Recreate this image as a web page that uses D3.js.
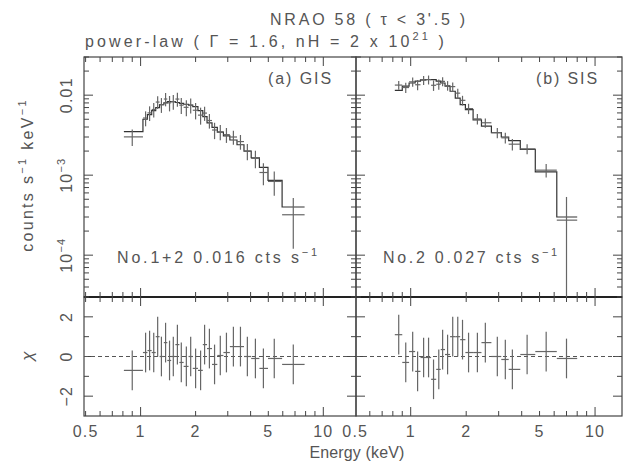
<!DOCTYPE html>
<html>
<head>
<meta charset="utf-8">
<script src="https://cdn.jsdelivr.net/npm/d3@7"></script>
<style>
  body { margin: 0; background: #fff; }
  text { font-family: "Liberation Sans", Arial, sans-serif; fill: #555; }
</style>
</head>
<body>
<div id="chart"></div>
<script>
// GIS (No.1+2) spectrum
const gisEnergy = [0.90, 1.065, 1.12, 1.18, 1.24, 1.30, 1.37, 1.44, 1.51, 1.59, 1.67, 1.78, 1.88, 2.00, 2.13, 2.24, 2.38, 2.54, 2.73, 2.95, 3.22, 3.52, 3.84, 4.25, 4.70, 5.39, 6.85];
const gisEdges = [0.81, 1.03, 1.09, 1.15, 1.21, 1.27, 1.34, 1.40, 1.47, 1.55, 1.63, 1.72, 1.83, 1.93, 2.06, 2.19, 2.31, 2.46, 2.63, 2.84, 3.08, 3.37, 3.68, 4.03, 4.47, 4.98, 5.95, 7.9];
const gisRate = [3.01e-3, 5.18e-3, 6.0e-3, 6.62e-3, 8.2e-3, 7.6e-3, 8.95e-3, 8.02e-3, 8.3e-3, 8.94e-3, 7.5e-3, 7.05e-3, 7.5e-3, 6.48e-3, 5.63e-3, 5.97e-3, 4.82e-3, 3.67e-3, 3.48e-3, 3.21e-3, 3.0e-3, 2.63e-3, 2.0e-3, 1.62e-3, 1.08e-3, 8.35e-4, 3.2e-4];
const gisErr = [7.0e-4, 1.1e-3, 1.25e-3, 1.35e-3, 1.5e-3, 1.6e-3, 1.7e-3, 1.75e-3, 1.75e-3, 1.75e-3, 1.7e-3, 1.6e-3, 1.6e-3, 1.5e-3, 1.35e-3, 1.2e-3, 1.0e-3, 8.5e-4, 7.5e-4, 6.8e-4, 6.0e-4, 5.5e-4, 4.6e-4, 4.0e-4, 3.3e-4, 2.8e-4, 2.0e-4];
const gisModel = [3.5e-3, 5.0e-3, 5.7e-3, 6.4e-3, 7.0e-3, 7.6e-3, 8.0e-3, 8.3e-3, 8.3e-3, 8.1e-3, 7.9e-3, 7.7e-3, 7.5e-3, 7.2e-3, 6.4e-3, 5.4e-3, 4.5e-3, 3.95e-3, 3.45e-3, 3.1e-3, 2.75e-3, 2.4e-3, 2.0e-3, 1.65e-3, 1.25e-3, 8.6e-4, 4.0e-4];
const gisChi = [-0.7, 0.2, 0.3, 0.2, 1.0, 0.0, 0.7, -0.2, 0.0, 0.6, -0.3, -0.5, 0.0, -0.6, -0.7, 0.6, 0.4, -0.4, 0.05, 0.2, 0.5, 0.5, 0.0, -0.1, -0.6, -0.1, -0.4];

// SIS (No.2) spectrum
const sisEnergy = [0.861, 0.94, 1.025, 1.09, 1.175, 1.25, 1.33, 1.42, 1.49, 1.585, 1.69, 1.80, 1.91, 2.06, 2.30, 2.54, 2.95, 3.26, 3.56, 4.28, 5.43, 7.0];
const sisEdges = [0.82, 0.90, 0.98, 1.057, 1.13, 1.21, 1.29, 1.375, 1.455, 1.535, 1.635, 1.745, 1.855, 1.98, 2.18, 2.42, 2.74, 3.10, 3.40, 3.93, 4.74, 6.2, 8.0];
const sisRate = [1.337e-2, 1.246e-2, 1.468e-2, 1.35e-2, 1.54e-2, 1.56e-2, 1.33e-2, 1.37e-2, 1.487e-2, 1.318e-2, 1.28e-2, 1.06e-2, 8.62e-3, 6.8e-3, 5.05e-3, 4.52e-3, 3.4e-3, 2.93e-3, 2.44e-3, 2.13e-3, 1.155e-3, 2.74e-4];
const sisErr = [1.7e-3, 1.8e-3, 1.9e-3, 2.0e-3, 2.0e-3, 2.0e-3, 2.0e-3, 2.0e-3, 1.9e-3, 1.8e-3, 1.6e-3, 1.4e-3, 1.2e-3, 1.0e-3, 7.5e-4, 6.0e-4, 5.0e-4, 4.5e-4, 4.0e-4, 3.0e-4, 2.2e-4, 2.6e-4];
const sisModel = [1.15e-2, 1.3e-2, 1.42e-2, 1.5e-2, 1.55e-2, 1.57e-2, 1.56e-2, 1.5e-2, 1.42e-2, 1.3e-2, 1.12e-2, 9.2e-3, 7.6e-3, 6.6e-3, 4.9e-3, 4.1e-3, 3.4e-3, 3.0e-3, 2.7e-3, 2.1e-3, 1.1e-3, 3.0e-4];
const sisChi = [1.1, -0.3, 0.25, -0.75, -0.05, -0.05, -1.15, -0.65, 0.35, 0.1, 1.0, 1.0, 0.85, 0.2, 0.2, 0.7, 0.0, -0.15, -0.65, 0.1, 0.25, -0.1];

// axis ticks and labels
const xTicks = [0.5, 0.6, 0.7, 0.8, 0.9, 1, 2, 3, 4, 5, 6, 7, 8, 9, 10];
const xMajor = [1, 10];
const xLabels = ["0.5", "1", "2", "5", "10"];
const yLabels = [[0.01, "0.01", ""], [1e-3, "10", "−3"], [1e-4, "10", "−4"]];
const chiTicks = [-2, -1, 0, 1, 2];
const chiMajor = [-2, 0, 2];
const chiLabels = [[2, "2"], [0, "0"], [-2, "−2"]];

const width = 628, height = 468;
const upY0 = 57, upY1 = 297, resY1 = 416;

const svg = d3.select("#chart").append("svg")
  .attr("width", width)
  .attr("height", height);

const yUp = d3.scaleLog().domain([3e-5, 0.03]).range([upY1, upY0]);
const yRes = d3.scaleLinear().domain([-3, 3]).range([resY1, upY1]);

const panels = [
  { x: d3.scaleLog().domain([0.49, 15.1]).range([84, 356]),
    E: gisEnergy, edges: gisEdges, rate: gisRate, err: gisErr, model: gisModel, chi: gisChi,
    tag: "(a) GIS", tagW: 65, note: "No.1+2 0.016 cts s", noteW: 203 },
  { x: d3.scaleLog().domain([0.505, 14]).range([356, 622]),
    E: sisEnergy, edges: sisEdges, rate: sisRate, err: sisErr, model: sisModel, chi: sisChi,
    tag: "(b) SIS", tagW: 63, note: "No.2 0.027 cts s", noteW: 177 }
];

// stretch letter spacing so a string spans the given width
function fit(sel, w) {
  const n = sel.text().length;
  const L = sel.node().getComputedTextLength();
  sel.attr("letter-spacing", ((w - L) / n).toFixed(2));
  return sel;
}

function line(g, x1, y1, x2, y2, color, sw) {
  g.append("line")
    .attr("x1", x1).attr("y1", y1).attr("x2", x2).attr("y2", y2)
    .attr("stroke", color || "#444")
    .attr("stroke-width", sw || 1);
}

panels.forEach((p) => {
  const g = svg.append("g");
  const [x0, x1] = p.x.range();

  // frames
  g.append("rect").attr("x", x0).attr("y", upY0).attr("width", x1 - x0).attr("height", upY1 - upY0)
    .attr("fill", "none").attr("stroke", "#444").attr("stroke-width", 1.2);
  g.append("rect").attr("x", x0).attr("y", upY1).attr("width", x1 - x0).attr("height", resY1 - upY1)
    .attr("fill", "none").attr("stroke", "#444").attr("stroke-width", 1.2);
  line(g, x0, upY1, x1, upY1, "#222", 2);

  // x ticks on every horizontal edge, pointing inward
  xTicks.filter((t) => t >= p.x.domain()[0] && t <= p.x.domain()[1]).forEach((t) => {
    const xx = p.x(t);
    const len = xMajor.includes(t) ? 9 : 5;
    line(g, xx, upY0, xx, upY0 + len);
    line(g, xx, upY1 - len, xx, upY1 + len);
    line(g, xx, resY1, xx, resY1 - len);
  });

  // y ticks, upper panel (log)
  yUp.ticks().forEach((t) => {
    const yy = yUp(t);
    const major = Math.abs(Math.log10(t) - Math.round(Math.log10(t))) < 1e-6;
    const len = major ? 9 : 5;
    line(g, x0, yy, x0 + len, yy);
    line(g, x1, yy, x1 - len, yy);
  });

  // y ticks, residual panel
  chiTicks.forEach((t) => {
    const yy = yRes(t);
    const len = chiMajor.includes(t) ? 9 : 5;
    line(g, x0, yy, x0 + len, yy);
    line(g, x1, yy, x1 - len, yy);
  });

  // x tick labels
  xLabels.forEach((s) => {
    g.append("text").attr("x", p.x(+s)).attr("y", 437)
      .attr("text-anchor", "middle").attr("font-size", 16).attr("letter-spacing", 1.2)
      .text(s);
  });

  // model: step histogram
  const stepPts = p.model.map((m, i) => [p.edges[i], m]);
  stepPts.push([p.edges[p.edges.length - 1], p.model[p.model.length - 1]]);
  g.append("path")
    .attr("d", d3.line().x((d) => p.x(d[0])).y((d) => yUp(d[1])).curve(d3.curveStepAfter)(stepPts))
    .attr("fill", "none").attr("stroke", "#333").attr("stroke-width", 1.2);

  // data crosses
  const yMin = yUp.domain()[0];
  p.E.forEach((e, i) => {
    const v = p.rate[i], s = p.err[i];
    line(g, p.x(p.edges[i]), yUp(v), p.x(p.edges[i + 1]), yUp(v), "#666", 1.2);
    line(g, p.x(e), yUp(v + s), p.x(e), yUp(Math.max(v - s, yMin)), "#666", 1.2);
  });

  // residuals
  g.append("line")
    .attr("x1", x0).attr("x2", x1).attr("y1", yRes(0)).attr("y2", yRes(0))
    .attr("stroke", "#555").attr("stroke-dasharray", "4,3");
  p.E.forEach((e, i) => {
    const c = p.chi[i];
    line(g, p.x(p.edges[i]), yRes(c), p.x(p.edges[i + 1]), yRes(c), "#666", 1.2);
    line(g, p.x(e), yRes(c + 1), p.x(e), yRes(c - 1), "#666", 1.2);
  });

  // panel tag and count rate note
  fit(g.append("text").attr("x", x1 - 23).attr("y", 84).attr("text-anchor", "end")
    .attr("font-size", 16).text(p.tag), p.tagW);
  const note = g.append("text").attr("x", x0 + (p === panels[0] ? 33 : 27)).attr("y", 263)
    .attr("font-size", 16);
  note.append("tspan").text(p.note);
  note.append("tspan").attr("dy", -7).attr("font-size", 11).text("−1");
  fit(note, p.noteW);
});

// y tick labels (rotated, left panel only)
const yLab = svg.append("g");
yLabels.forEach(([v, base, sup]) => {
  const t = yLab.append("text")
    .attr("transform", `translate(72,${yUp(v)}) rotate(-90)`)
    .attr("text-anchor", "middle").attr("font-size", 16).attr("letter-spacing", 1.2);
  t.append("tspan").text(base);
  if (sup) t.append("tspan").attr("dy", -7).attr("font-size", 11).text(sup);
});
chiLabels.forEach(([v, s]) => {
  yLab.append("text")
    .attr("transform", `translate(72,${yRes(v)}) rotate(-90)`)
    .attr("text-anchor", "middle").attr("font-size", 16).attr("letter-spacing", 1.2)
    .text(s);
});

// axis titles
const yTitle = svg.append("text")
  .attr("transform", `translate(33,175) rotate(-90)`)
  .attr("text-anchor", "middle").attr("font-size", 16);
yTitle.append("tspan").text("counts s");
yTitle.append("tspan").attr("dy", -7).attr("font-size", 11).text("−1");
yTitle.append("tspan").attr("dy", 7).text("  keV");
yTitle.append("tspan").attr("dy", -7).attr("font-size", 11).text("−1");
fit(yTitle, 156);

svg.append("text")
  .attr("transform", `translate(33,356) rotate(-90)`)
  .attr("text-anchor", "middle").attr("font-size", 17).attr("font-style", "italic")
  .text("χ");

fit(svg.append("text").attr("x", 357).attr("y", 458).attr("text-anchor", "middle")
  .attr("font-size", 16).text("Energy (keV)"), 95);

// titles
fit(svg.append("text").attr("x", 369).attr("y", 25).attr("text-anchor", "middle")
  .attr("font-size", 16).text("NRAO 58 ( τ < 3'.5 )"), 198);

const t2 = svg.append("text").attr("x", 85).attr("y", 47).attr("font-size", 16);
t2.append("tspan").text("power-law ( Γ = 1.6, nH = 2 x 10");
t2.append("tspan").attr("dy", -7).attr("font-size", 11).text("21");
t2.append("tspan").attr("dy", 7).text(" )");
fit(t2, 362);
</script>
</body>
</html>
